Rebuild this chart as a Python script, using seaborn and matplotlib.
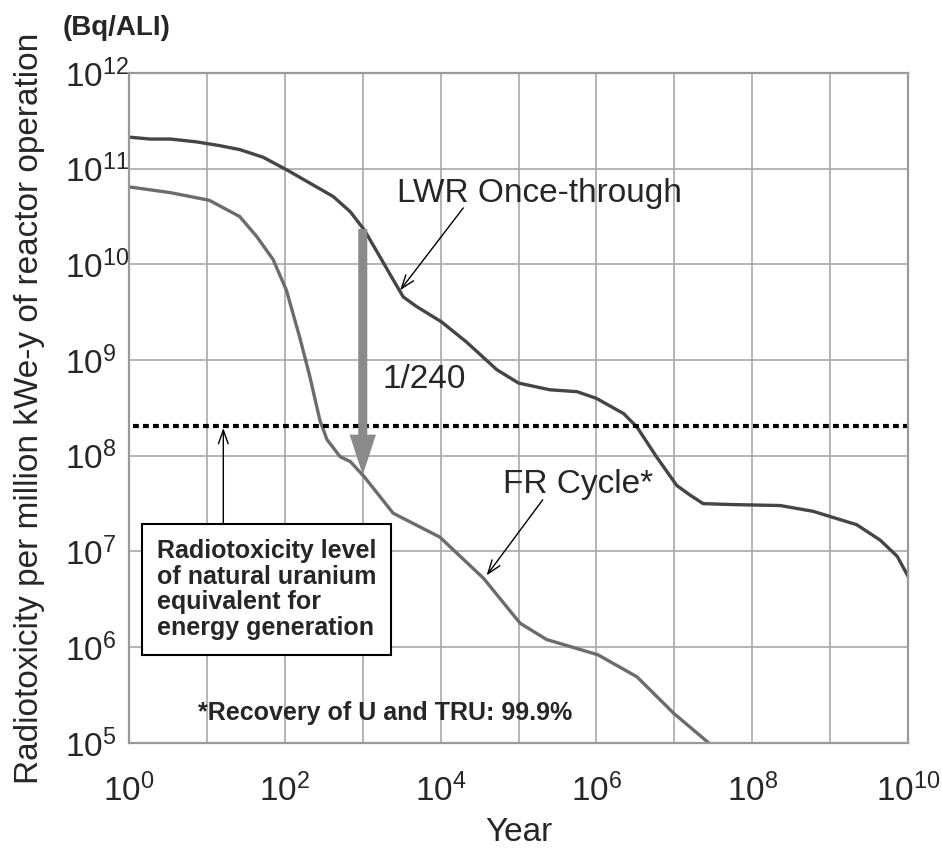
import numpy as np
import pandas as pd
import matplotlib
matplotlib.use("Agg")
import matplotlib.pyplot as plt
import matplotlib.ticker as mticker
import seaborn as sns

# curves, as log10(year) and log10(Bq/ALI)
lwr_log_year = [0.0, 0.27, 0.53, 0.87, 1.17, 1.42, 1.72, 2.02, 2.32, 2.62, 2.84, 3.02,
                3.22, 3.39, 3.52, 3.69, 4.01, 4.33, 4.72, 5.00, 5.40, 5.75, 6.00, 6.35,
                6.52, 6.77, 7.03, 7.20, 7.37, 7.76, 8.36, 8.78, 9.34, 9.64, 9.86, 10.0]
lwr_log_tox = [11.33, 11.31, 11.31, 11.28, 11.24, 11.20, 11.12, 10.99, 10.85, 10.71, 10.55, 10.36,
               10.08, 9.84, 9.66, 9.56, 9.40, 9.19, 8.90, 8.76, 8.69, 8.67, 8.60, 8.44,
               8.30, 7.99, 7.69, 7.59, 7.50, 7.49, 7.48, 7.42, 7.28, 7.12, 6.95, 6.74]

fr_log_year = [0.0, 0.53, 1.03, 1.42, 1.64, 1.85, 2.02, 2.19, 2.32, 2.45, 2.54, 2.71,
               2.84, 3.02, 3.39, 3.99, 4.55, 5.02, 5.36, 6.02, 6.52, 6.99, 7.44]
fr_log_tox = [10.81, 10.75, 10.67, 10.50, 10.29, 10.05, 9.73, 9.24, 8.83, 8.37, 8.17, 7.99,
              7.94, 7.78, 7.40, 7.15, 6.72, 6.25, 6.08, 5.92, 5.69, 5.31, 5.0]

x_decades = list(range(0, 11))
y_decades = list(range(5, 13))

uranium_level = 2.05e8
reduction_year = 1e3
reduction_from = 10 ** 10.37
reduction_to = 10 ** 7.80

df = pd.concat([
    pd.DataFrame({"year": 10.0 ** np.array(lwr_log_year), "tox": 10.0 ** np.array(lwr_log_tox),
                  "cycle": "LWR Once-through"}),
    pd.DataFrame({"year": 10.0 ** np.array(fr_log_year), "tox": 10.0 ** np.array(fr_log_tox),
                  "cycle": "FR Cycle*"}),
])

sns.set_style("white")
plt.rcParams["font.family"] = ["Liberation Sans", "DejaVu Sans"]
plt.rcParams["mathtext.fontset"] = "custom"
plt.rcParams["mathtext.rm"] = "Liberation Sans"
plt.rcParams["mathtext.it"] = "Liberation Sans:italic"
plt.rcParams["mathtext.bf"] = "Liberation Sans:bold"

fig = plt.figure(figsize=(9.42, 8.49), dpi=100)
ax = fig.add_axes([0.137, 0.125, 0.827, 0.789])

sns.lineplot(data=df, x="year", y="tox", hue="cycle", estimator=None, sort=False,
             palette={"LWR Once-through": "#454545", "FR Cycle*": "#6c6c6c"},
             linewidth=2.4, legend=False, ax=ax)

ax.set_xscale("log")
ax.set_yscale("log")
ax.set_xlim(1, 1e10)
ax.set_ylim(1e5, 1e12)
ax.set_xticks([10.0 ** e for e in x_decades])
ax.set_xticklabels([f"$10^{{{e}}}$" if e % 2 == 0 else "" for e in x_decades])
ax.set_yticks([10.0 ** e for e in y_decades])
ax.set_yticklabels([f"$10^{{{e}}}$" for e in y_decades])
ax.xaxis.set_minor_locator(mticker.NullLocator())
ax.yaxis.set_minor_locator(mticker.NullLocator())

ax.tick_params(axis="x", direction="in", length=5, width=1, color="#777777", labelsize=24, pad=22)
ax.tick_params(axis="y", direction="in", length=8, width=1, color="#777777", labelsize=24, pad=46)
for lab in ax.get_yticklabels():
    lab.set_horizontalalignment("left")

ax.grid(True, color="#a8a8a8", linewidth=1.2)
for s in ax.spines.values():
    s.set_color("#999999")
    s.set_linewidth(1.6)

ax.axhline(uranium_level, xmin=0.005, xmax=0.998, color="black", linewidth=3,
           linestyle=(0, (1.4, 1.0)), dash_capstyle="butt")

# reduction arrow
ax.annotate("", xy=(reduction_year, reduction_to), xytext=(reduction_year, reduction_from),
            arrowprops=dict(arrowstyle="simple,head_length=2.9,head_width=1.9,tail_width=0.65",
                            mutation_scale=10, color="#8a8a8a", lw=0, shrinkA=0, shrinkB=0))
ax.text(10 ** 3.25, 10 ** 8.71, "1/240", fontsize=24, ha="left", va="baseline")

arrow_kw = dict(arrowstyle="->,head_length=0.7,head_width=0.25", color="black", lw=1,
                shrinkA=0, shrinkB=0, mutation_scale=14)
ax.text(10 ** 3.44, 10 ** 10.65, "LWR Once-through", fontsize=24, ha="left", va="baseline")
ax.annotate("", xy=(10 ** 3.48, 10 ** 9.73), xytext=(10 ** 4.29, 10 ** 10.59), arrowprops=arrow_kw)
ax.text(10 ** 4.80, 10 ** 7.61, "FR Cycle*", fontsize=24, ha="left", va="baseline")
ax.annotate("", xy=(10 ** 4.59, 10 ** 6.75), xytext=(10 ** 5.31, 10 ** 7.54), arrowprops=arrow_kw)

ax.annotate("", xy=(10 ** 1.21, 10 ** 8.29), xytext=(10 ** 1.21, 10 ** 7.27), arrowprops=arrow_kw)
ax.text(10 ** 0.36, 10 ** 7.13,
        "Radiotoxicity level\nof natural uranium\nequivalent for\nenergy generation",
        fontsize=18, fontweight="bold", ha="left", va="top", linespacing=1.08,
        bbox=dict(boxstyle="square,pad=0.6", facecolor="white", edgecolor="black", linewidth=1.5))

ax.text(10 ** 0.886, 10 ** 5.24, "*Recovery of U and TRU: 99.9%", fontsize=18,
        fontweight="bold", ha="left", va="baseline")

ax.set_xlabel("Year", fontsize=24)
ax.xaxis.set_label_coords(0.5, -0.11)
ax.set_ylabel("Radiotoxicity per million kWe-y of reactor operation", fontsize=24)
ax.yaxis.set_label_coords(-0.108, 0.5)
fig.text(0.067, 0.959, "(Bq/ALI)", fontsize=20, fontweight="bold", ha="left", va="baseline")

fig.savefig("out.png", dpi=100)
